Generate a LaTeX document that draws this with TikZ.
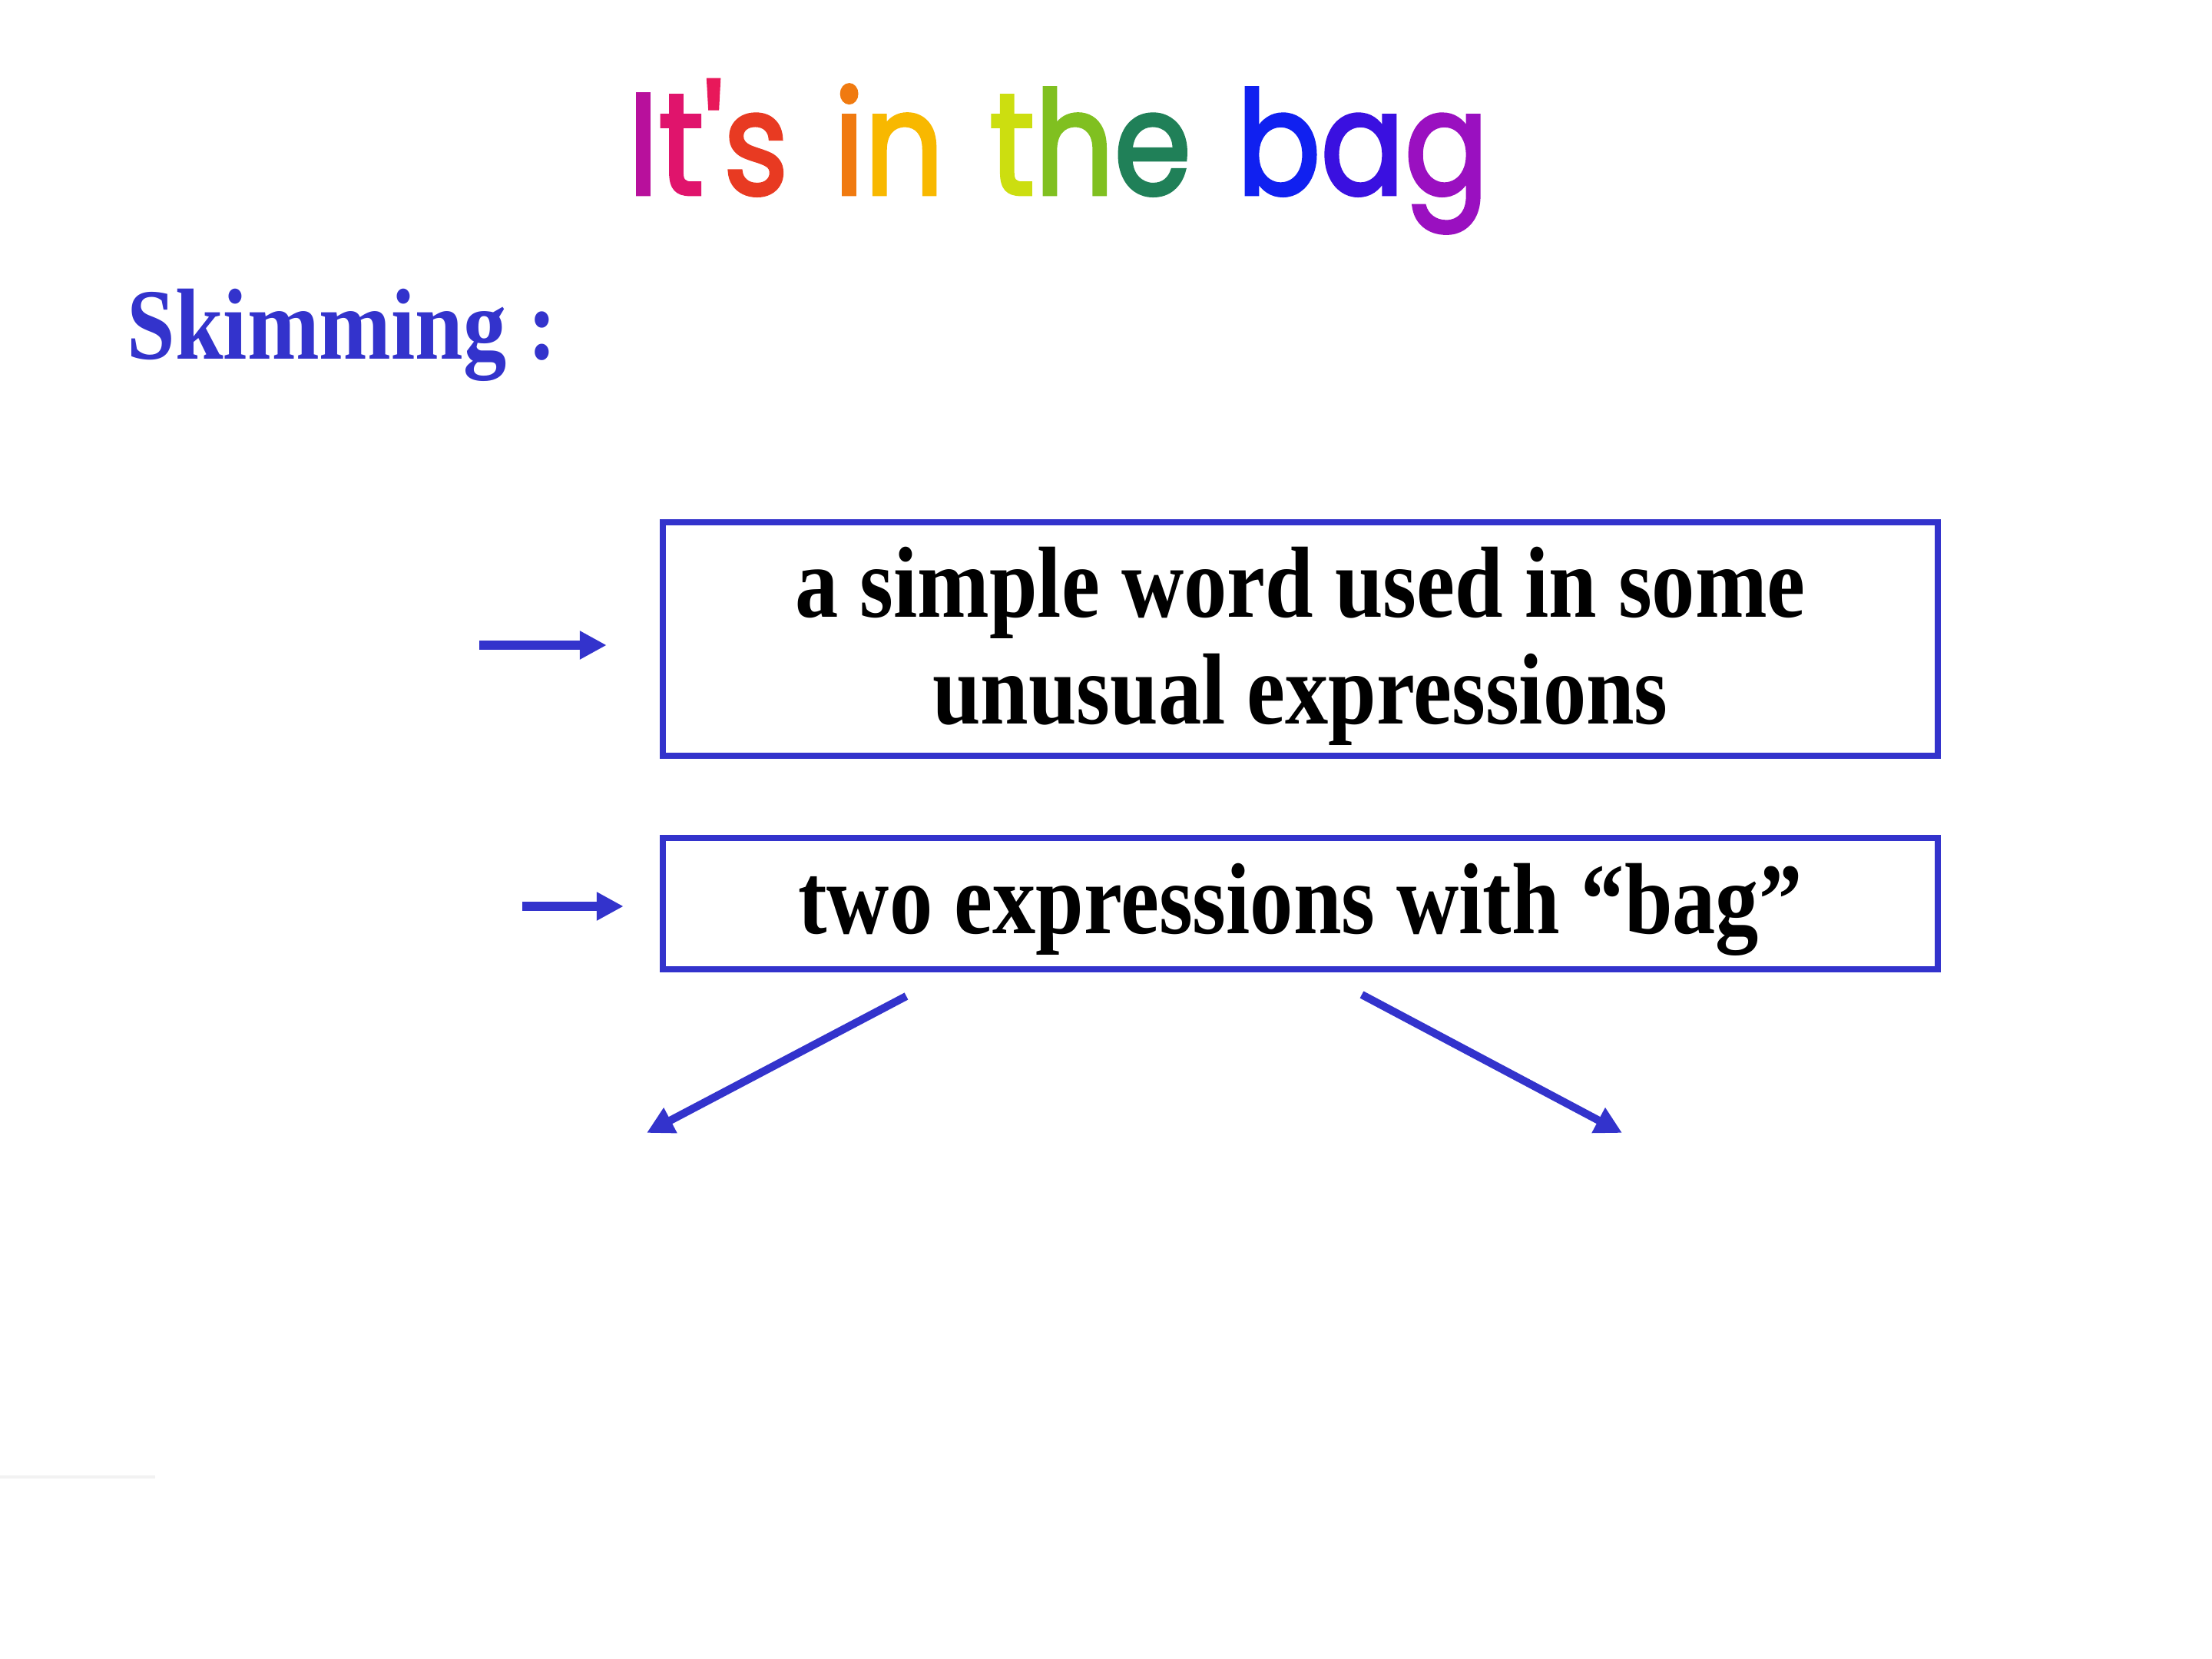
\documentclass[tikz,border=0pt]{standalone}
\usepackage{graphicx}
\usepackage{fontspec}
\setmainfont{Liberation Serif}
\newfontfamily\bagfont[Ligatures=TeXOff,FakeBold=2.5,LetterSpace=10]{Poppins}
\usetikzlibrary{arrows.meta}
\usepackage{xcolor}
\definecolor{slideblue}{RGB}{51,51,204}
\definecolor{bagI}{RGB}{184,16,156}
\definecolor{bagt}{RGB}{224,20,108}
\definecolor{bagq}{RGB}{232,24,90}
\definecolor{bags}{RGB}{232,58,34}
\definecolor{bagi}{RGB}{240,122,16}
\definecolor{bagn}{RGB}{248,184,0}
\definecolor{bagtt}{RGB}{204,222,16}
\definecolor{bagh}{RGB}{128,192,32}
\definecolor{bage}{RGB}{32,128,88}
\definecolor{bagb}{RGB}{16,32,240}
\definecolor{baga}{RGB}{58,16,224}
\definecolor{bagg}{RGB}{154,16,192}
\newcommand{\tallbox}[1]{\scalebox{1}[1.17]{#1}}

\begin{document}
\begin{tikzpicture}[
  wordbox/.style={draw=slideblue,line width=2.4pt,inner sep=0pt},
  boxtext/.style={inner sep=0pt,font=\fontsize{32}{33.9}\selectfont\bfseries},
  bluearrow/.style={draw=slideblue,line width=3.2pt,
    -{Triangle[length=3.5mm,width=3.5mm]}}]
  \useasboundingbox (0,0) rectangle (28.8,-21.6);

  % title
  \node[anchor=base west,inner sep=0pt] (title) at (8.17,-2.53)
    {\resizebox{11.2cm}{1.49cm}{\bagfont\textcolor{bagI}{I}\textcolor{bagt}{t}\textcolor{bagq}{'}\textcolor{bags}{s}
      \textcolor{bagi}{i}\textcolor{bagn}{n}
      \textcolor{bagtt}{t}\textcolor{bagh}{h}\textcolor{bage}{e}
      \textcolor{bagb}{b}\textcolor{baga}{a}\textcolor{bagg}{g}}};
  \node[anchor=base west,inner sep=0pt,text=slideblue,
    font=\fontsize{32}{32.5}\selectfont\bfseries] (skim) at (1.65,-4.68) {\tallbox{Skimming :}};

  % boxes
  \node[wordbox,minimum width=16.6cm,minimum height=3.04cm] (box1) at (16.93,-8.32) {};
  \node[wordbox,minimum width=16.6cm,minimum height=1.71cm] (box2) at (16.93,-11.765) {};
  \node[boxtext] (text1) at ([yshift=-0.13cm]box1.center)
    {\tallbox{\begin{tabular}{@{}c@{}}a simple word used in some\\ unusual expressions\end{tabular}}};
  \node[boxtext] (text2) at ([yshift=-0.08cm]box2.center) {\tallbox{two expressions with “bag”}};

  % arrows
  \coordinate (in1) at (6.24,-8.40);
  \coordinate (in2) at (6.80,-11.80);
  \draw[bluearrow,shorten >=0.69cm] (in1) -- (in1 -| box1.west);
  \draw[bluearrow,shorten >=0.47cm] (in2) -- (in2 -| box2.west);

  \coordinate (l0) at (11.80,-12.97);
  \coordinate (l1) at (8.42,-14.75);
  \coordinate (r0) at (17.73,-12.95);
  \coordinate (r1) at (21.12,-14.75);
  \draw[bluearrow,line width=2.9pt] (l0) -- (l1);
  \draw[bluearrow,line width=2.9pt] (r0) -- (r1);

  \draw[black!5,line width=0.04cm] (0,-19.23) -- (2.02,-19.23);
\end{tikzpicture}
\end{document}
